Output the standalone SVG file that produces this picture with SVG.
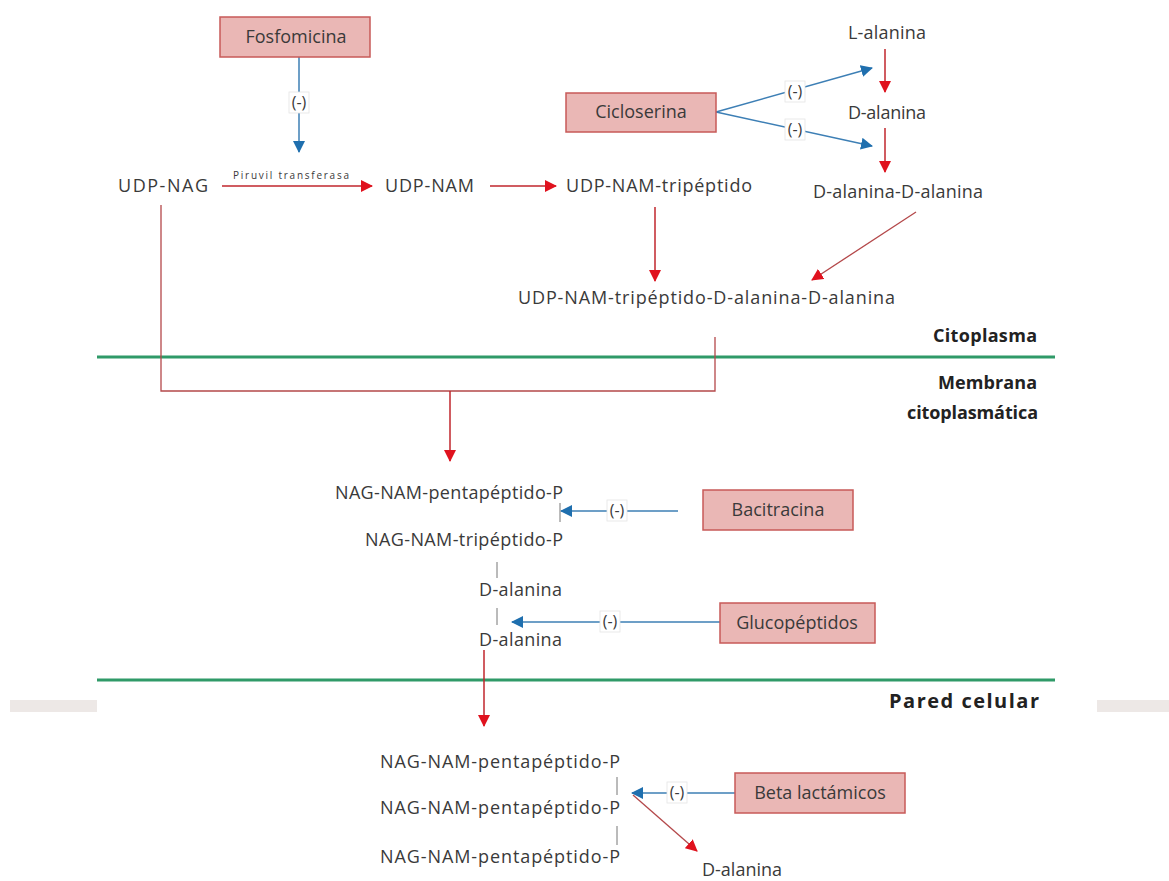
<svg xmlns="http://www.w3.org/2000/svg" width="1169" height="881" viewBox="0 0 1169 881">
<defs>
<marker id="ar" markerWidth="12" markerHeight="12" refX="11" refY="6" orient="auto" markerUnits="userSpaceOnUse" viewBox="0 0 12 12"><path d="M0,0 L12,6 L0,12 Z" fill="#e0121e"/></marker>
<marker id="ab" markerWidth="12" markerHeight="12" refX="11" refY="6" orient="auto" markerUnits="userSpaceOnUse" viewBox="0 0 12 12"><path d="M0,0 L12,6 L0,12 Z" fill="#1f6fae"/></marker>
</defs>
<style>
text{font-family:"Open Sans","Liberation Sans",sans-serif;font-size:18px;fill:#3a3a3a;}
.b{font-weight:bold;font-size:18px;fill:#222;}
.bp{font-size:20px;}
.s{font-size:10px;}
.n{font-size:16px;}
.m{text-anchor:middle;}
.box{fill:#eab7b5;stroke:#c75a58;stroke-width:1.5;}
.red{stroke:#c0262c;stroke-width:1.5;fill:none;}
.red2{stroke:#b4484a;stroke-width:1.3;fill:none;}
.blue{stroke:#3d7fb5;stroke-width:1.5;fill:none;}
.tick{stroke:#777;stroke-width:1;}
.green{stroke:#2f9a68;stroke-width:3;}
.lbl{fill:#fff;stroke:#e4e4e4;stroke-width:0.8;}
</style>
<rect width="1169" height="881" fill="#fff"/>
<rect x="10" y="700" width="87" height="12" fill="#ede8e6"/>
<rect x="1097" y="700" width="72" height="12" fill="#ede8e6"/>
<line class="green" x1="97" y1="357" x2="1055" y2="357"/>
<line class="green" x1="97" y1="680" x2="1055" y2="680"/>
<g id="connectors">
<line class="blue" x1="299" y1="57" x2="299" y2="152" marker-end="url(#ab)"/>
<line class="red" x1="222" y1="186" x2="372" y2="186" marker-end="url(#ar)"/>
<line class="red" x1="490" y1="186" x2="556" y2="186" marker-end="url(#ar)"/>
<line class="blue" x1="716" y1="112" x2="872" y2="68" marker-end="url(#ab)"/>
<line class="blue" x1="716" y1="112" x2="872" y2="146" marker-end="url(#ab)"/>
<line class="red" x1="885" y1="49" x2="885" y2="92" marker-end="url(#ar)"/>
<line class="red" x1="885" y1="128" x2="885" y2="172" marker-end="url(#ar)"/>
<line class="red" x1="655" y1="207" x2="655" y2="281" marker-end="url(#ar)"/>
<line class="red2" x1="916" y1="212" x2="812" y2="280" marker-end="url(#ar)"/>
<path class="red2" d="M161,205 V391 H715 V337"/>
<line class="red" x1="450" y1="391" x2="450" y2="461" marker-end="url(#ar)"/>
<line class="blue" x1="678" y1="511" x2="561" y2="511" marker-end="url(#ab)"/>
<line class="tick" x1="560" y1="503" x2="560" y2="522"/>
<line class="tick" x1="497" y1="562" x2="497" y2="578"/>
<line class="tick" x1="497" y1="608" x2="497" y2="625"/>
<line class="blue" x1="720" y1="622" x2="512" y2="622" marker-end="url(#ab)"/>
<line class="red" x1="484" y1="650" x2="484" y2="726" marker-end="url(#ar)"/>
<line class="tick" x1="617" y1="777" x2="617" y2="795"/>
<line class="tick" x1="617" y1="826" x2="617" y2="845"/>
<line class="blue" x1="735" y1="793" x2="632" y2="793" marker-end="url(#ab)"/>
<line class="red2" x1="633" y1="795" x2="697" y2="851" marker-end="url(#ar)"/>
<rect class="lbl" x="289" y="92" width="20" height="21"/>
<text class="m n" x="299" y="108">(-)</text>
<rect class="lbl" x="785" y="81" width="20" height="21"/>
<text class="m n" x="795" y="97">(-)</text>
<rect class="lbl" x="785" y="119" width="20" height="21"/>
<text class="m n" x="795" y="135">(-)</text>
<rect class="lbl" x="607" y="500" width="20" height="21"/>
<text class="m n" x="617" y="516">(-)</text>
<rect class="lbl" x="600" y="611" width="20" height="21"/>
<text class="m n" x="610" y="627">(-)</text>
<rect class="lbl" x="667" y="782" width="20" height="21"/>
<text class="m n" x="677" y="798">(-)</text>
<text class="s" x="233" y="179" textLength="116" lengthAdjust="spacing">Piruvil transferasa</text>
</g>
<g id="fosfomicina"><rect class="box" x="220" y="17" width="150" height="40"/><text class="m" x="296" y="43">Fosfomicina</text></g>
<g id="cicloserina"><rect class="box" x="566" y="93" width="150" height="39"/><text class="m" x="641" y="118">Cicloserina</text></g>
<g id="bacitracina"><rect class="box" x="703" y="490" width="150" height="40"/><text class="m" x="778" y="516">Bacitracina</text></g>
<g id="glucopeptidos"><rect class="box" x="720" y="603" width="155" height="40"/><text class="m" x="797" y="629">Glucopéptidos</text></g>
<g id="betalactamicos"><rect class="box" x="735" y="773" width="170" height="40"/><text class="m" x="820" y="799">Beta lactámicos</text></g>
<g id="udpnag"><text x="118" y="192" textLength="90">UDP-NAG</text></g>
<g id="udpnam"><text x="385" y="192" textLength="89">UDP-NAM</text></g>
<g id="udpnamtri"><text x="566" y="192" textLength="186">UDP-NAM-tripéptido</text></g>
<g id="lalanina"><text x="848" y="39" textLength="78">L-alanina</text></g>
<g id="dalanina1"><text x="848" y="119" textLength="78">D-alanina</text></g>
<g id="dalanina2"><text x="813" y="198" textLength="170">D-alanina-D-alanina</text></g>
<g id="udpfull"><text x="518" y="304" textLength="377">UDP-NAM-tripéptido-D-alanina-D-alanina</text></g>
<g id="citoplasma"><text class="b" x="933" y="342" textLength="104">Citoplasma</text></g>
<g id="membrana"><text class="b" x="938" y="389" textLength="99">Membrana</text><text class="b" x="907" y="419" textLength="131">citoplasmática</text></g>
<g id="pared"><text class="b bp" x="889" y="708" textLength="150">Pared celular</text></g>
<g id="penta1"><text x="335" y="499" textLength="228">NAG-NAM-pentapéptido-P</text></g>
<g id="tri"><text x="365" y="546" textLength="198">NAG-NAM-tripéptido-P</text></g>
<g id="dala3"><text x="479" y="596" textLength="83">D-alanina</text></g>
<g id="dala4"><text x="479" y="646" textLength="83">D-alanina</text></g>
<g id="penta2"><text x="380" y="768" textLength="240">NAG-NAM-pentapéptido-P</text></g>
<g id="penta3"><text x="380" y="814" textLength="240">NAG-NAM-pentapéptido-P</text></g>
<g id="penta4"><text x="380" y="863" textLength="240">NAG-NAM-pentapéptido-P</text></g>
<g id="dala5"><text x="702" y="876" textLength="80">D-alanina</text></g>
</svg>
